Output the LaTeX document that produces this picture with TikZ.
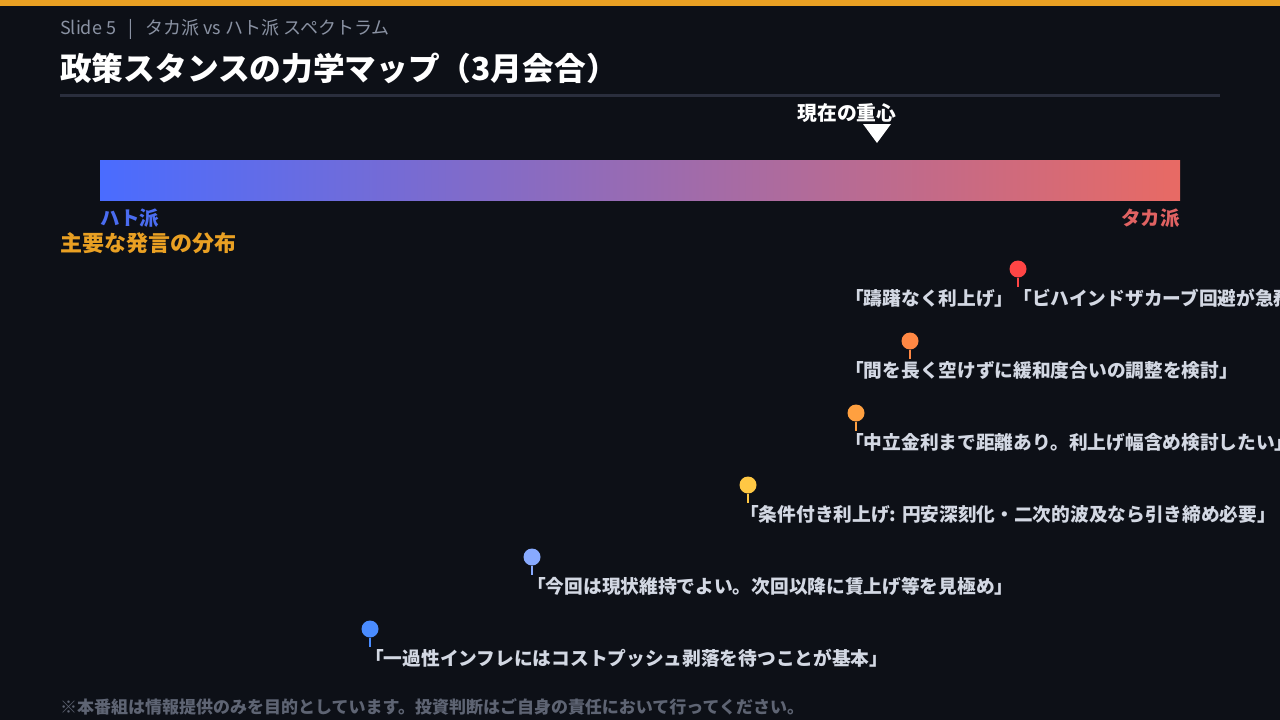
\documentclass[tikz,border=0pt]{standalone}
\usepackage{fontspec}
\setmainfont{Noto Sans CJK JP}
\definecolor{bg}{HTML}{0D1017}
\definecolor{topbar}{HTML}{E9A023}
\definecolor{subgray}{HTML}{8A92A3}
\definecolor{divider}{HTML}{2A2E3D}
\definecolor{barL}{HTML}{4A6CFF}
\definecolor{barM}{HTML}{A06AB0}
\definecolor{barR}{HTML}{E86A64}
\definecolor{hato}{HTML}{4A6CF0}
\definecolor{taka}{HTML}{E06262}
\definecolor{accent}{HTML}{E9A023}
\definecolor{quotec}{HTML}{D3D8E3}
\definecolor{foot}{HTML}{5E6473}
\definecolor{pA}{HTML}{FF4545}
\definecolor{pB}{HTML}{FF8844}
\definecolor{pC}{HTML}{FFA040}
\definecolor{pD}{HTML}{FFC844}
\definecolor{pE}{HTML}{88AAFF}
\definecolor{pF}{HTML}{4A8CFF}
\tikzset{
  txt/.style={anchor=west, inner sep=0pt},
  quote/.style={txt, text=quotec, font=\fontsize{18.7}{22}\selectfont\bfseries},
  pinhead/.style={circle, inner sep=0pt, minimum size=17pt},
  stem/.style={line width=2pt},
}
\begin{document}
\begin{tikzpicture}[x=1pt,y=-1pt]
\useasboundingbox (0,0) rectangle (1280,720);
\fill[bg] (0,0) rectangle (1280,720);
\fill[topbar] (0,0) rectangle (1280,6);
\node[txt, text=subgray, font=\fontsize{18}{21}\selectfont] (sub) at (60,29) {Slide 5\ \ \ |\ \ \ タカ派 vs ハト派 スペクトラム};
\node[txt, text=white, font=\fontsize{31.7}{36}\selectfont\bfseries] (title) at (60,68) {政策スタンスの力学マップ（3月会合）};
\draw[divider, line width=3pt] (60,95) -- (1220,95);
% spectrum bar
\shade[left color=barL, middle color=barM, right color=barR] (100,160) rectangle (1180,200);
\node[anchor=center, inner sep=0pt, text=white, font=\fontsize{19.8}{22}\selectfont\bfseries] (cog) at (847,113) {現在の重心};
\fill[white] (863,124) -- (891,124) -- (877,143) -- cycle;
\node[txt, text=hato, font=\fontsize{19.5}{22}\selectfont\bfseries] (hatol) at (100,218) {ハト派};
\node[anchor=east, inner sep=0pt, text=taka, font=\fontsize{19.5}{22}\selectfont\bfseries] (takal) at (1180,218) {タカ派};
\node[txt, text=accent, font=\fontsize{22}{26}\selectfont\bfseries] (dist) at (60,243) {主要な発言の分布};
% pins
\foreach \n/\x/\y/\c in {1/1018/269/pA, 2/910/341/pB, 3/856/413/pC, 4/748/485/pD, 5/532/557/pE, 6/370/629/pF}{
  \node[pinhead, fill=\c] (ph\n) at (\x,\y) {};
  \coordinate (ps\n) at (\x,\y+18);
  \draw[stem, \c] (ph\n.south) -- (ps\n);
}
\node[quote] (q1) at (845,298) {「躊躇なく利上げ」「ビハインドザカーブ回避が急務」};
\node[quote] (q2) at (845,370) {「間を長く空けずに緩和度合いの調整を検討」};
\node[quote] (q3) at (845,442) {「中立金利まで距離あり。利上げ幅含め検討したい」};
\node[quote] (q4) at (740,514) {「条件付き利上げ: 円安深刻化・二次的波及なら引き締め必要」};
\node[quote] (q5) at (527,586) {「今回は現状維持でよい。次回以降に賃上げ等を見極め」};
\node[quote] (q6) at (365,658) {「一過性インフレにはコストプッシュ剥落を待つことが基本」};
\node[txt, text=foot, font=\fontsize{17}{20}\selectfont\bfseries] (footer) at (60,707) {※本番組は情報提供のみを目的としています。投資判断はご自身の責任において行ってください。};
\end{tikzpicture}
\end{document}
